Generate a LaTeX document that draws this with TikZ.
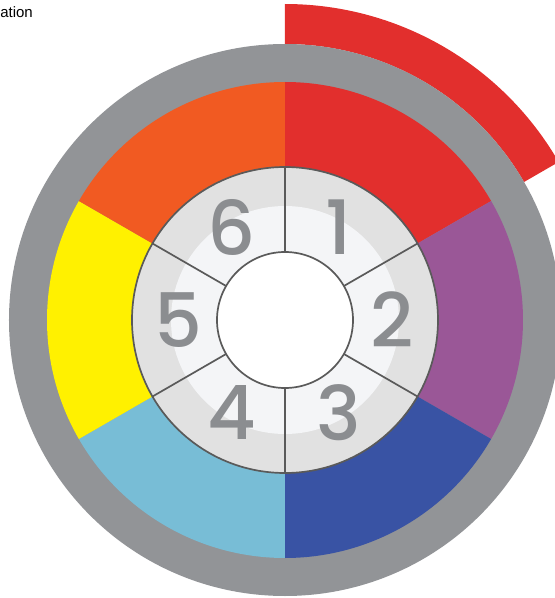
\documentclass[tikz,border=0pt]{standalone}
\usepackage{fontspec}
\setmainfont{Liberation Sans}
\newfontfamily\digitfont{Poppins}[UprightFont=* Medium]
\definecolor{ringgray}{HTML}{929497}
\definecolor{segred}{HTML}{E22F2D}
\definecolor{segpurple}{HTML}{9A5797}
\definecolor{segblue}{HTML}{3953A4}
\definecolor{seglblue}{HTML}{78BDD6}
\definecolor{segyellow}{HTML}{FFF100}
\definecolor{segorange}{HTML}{F15A22}
\definecolor{hubgray}{HTML}{E1E1E1}
\definecolor{hublight}{HTML}{F4F5F7}
\definecolor{linegray}{HTML}{5A5A5A}
\definecolor{digitgray}{HTML}{8B8D90}
\tikzset{
  digit/.style={text=digitgray, font=\digitfont\fontsize{75}{75}\selectfont, inner sep=0pt},
  divider/.style={draw=linegray, line width=1.7pt},
  caption/.style={font=\fontsize{15}{15}\selectfont, text=black, inner sep=0pt}
}
\begin{document}
\begin{tikzpicture}[x=1pt,y=1pt]
\useasboundingbox (-285,-278) rectangle (270,320);
% outer red arc
\fill[segred] (90:276) -- (90:316) arc[start angle=90, end angle=30, radius=316] -- (30:276) arc[start angle=30, end angle=90, radius=276] -- cycle;
% gray ring
\fill[ringgray] (0,0) circle (276);
% coloured sectors
\foreach \a/\c in {30/segred, -30/segpurple, -90/segblue, -150/seglblue, 150/segyellow, 90/segorange}{
  \fill[\c] (0,0) -- (\a:238) arc[start angle=\a, end angle=\a+60, radius=238] -- cycle;
}
% hub
\fill[hubgray] (0,0) circle (153);
\fill[hublight] (0,0) circle (114);
\node[digit] (d1) at (60:107) {1};
\node[digit] (d2) at (0:107) {2};
\node[digit] (d3) at (-60:107) {3};
\node[digit] (d4) at (-120:107) {4};
\node[digit] (d5) at (180:107) {5};
\node[digit] (d6) at (120:107) {6};
\foreach \a in {90,30,-30,-90,-150,150}{
  \coordinate (i\a) at (\a:68);
  \coordinate (o\a) at (\a:153);
  \draw[divider] (i\a) -- (o\a);
}
\draw[divider, fill=white] (0,0) circle (68);
\draw[divider] (0,0) circle (153);
\node[caption, anchor=base east] (cap) at (-252,302) {ation};
\end{tikzpicture}
\end{document}
